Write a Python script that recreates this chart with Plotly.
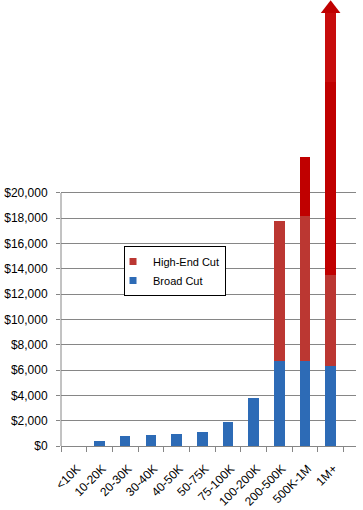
import plotly.graph_objects as go

categories = ["<10K", "10-20K", "20-30K", "30-40K", "40-50K", "50-75K",
              "75-100K", "100-200K", "200-500K", "500K-1M", "1M+"]
broad_cut = [0, 400, 770, 850, 950, 1100, 1870, 3770, 6700, 6700, 6360]
high_end_cut = [0, 0, 0, 0, 0, 0, 0, 0, 11060, 11460, 7140]
overflow = [0, 0, 0, 0, 0, 0, 0, 0, 0, 4690, 15250]
arrow_shaft = [0, 0, 0, 0, 0, 0, 0, 0, 0, 0, 5480]
arrow_head_cat = ["1M+"]
arrow_head_y = [34560]
y_ticks = list(range(0, 20001, 2000))
y_tick_text = [f"${v:,}" for v in y_ticks]

BLUE = "#2d6bb6"
RED = "#bb3732"
DARK_RED = "#c00000"
SHAFT = "#c70c0c"
GRID = "#868686"
FONT = "Liberation Sans"

fig = go.Figure()
for vals, col in [(broad_cut, BLUE), (high_end_cut, RED),
                  (overflow, DARK_RED), (arrow_shaft, SHAFT)]:
    fig.add_bar(x=categories, y=vals, marker=dict(color=col, line=dict(width=0)),
                showlegend=False, hoverinfo="skip")
fig.add_scatter(x=arrow_head_cat, y=arrow_head_y, mode="markers",
                marker=dict(symbol="triangle-up", size=17, color=DARK_RED,
                            line=dict(width=0)),
                cliponaxis=False, showlegend=False, hoverinfo="skip")
# legend entries
fig.add_scatter(x=[None], y=[None], mode="markers", name="High-End Cut",
                marker=dict(symbol="square", size=7, color=RED))
fig.add_scatter(x=[None], y=[None], mode="markers", name="Broad Cut",
                marker=dict(symbol="square", size=7, color=BLUE))

fig.add_shape(type="line", xref="paper", yref="y", x0=0, x1=0,
              y0=0, y1=max(y_ticks), line=dict(color=GRID, width=1))

fig.update_layout(
    width=363, height=510,
    margin=dict(l=61, r=7, t=0, b=64),
    barmode="stack", bargap=0.59,
    plot_bgcolor="white", paper_bgcolor="white",
    font=dict(family=FONT, size=12, color="black"),
    legend=dict(x=0.2136, y=0.4484, xanchor="left", yanchor="top",
                traceorder="normal",
                bgcolor="white", bordercolor="black", borderwidth=1,
                font=dict(size=11, color="black"), indentation=-12,
                tracegroupgap=0),
    xaxis=dict(type="category", showline=True, linecolor=GRID, linewidth=1,
               ticks="outside", tickson="boundaries", ticklen=5,
               tickcolor=GRID, tickangle=-45, showgrid=False,
               ticklabelstandoff=10, ticklabelshift=3,
               automargin=False, tickfont=dict(size=12)),
    yaxis=dict(range=[0, 35250], tickvals=y_ticks, ticktext=y_tick_text,
               showgrid=True, gridcolor=GRID, gridwidth=1,
               zeroline=False, showline=False, ticks="outside", ticklen=4,
               tickcolor=GRID, ticklabelstandoff=6, automargin=False,
               tickfont=dict(size=12)),
)

fig.write_html("out.html",
               config={"displayModeBar": False},
               post_script="document.body.style.margin='0';")
